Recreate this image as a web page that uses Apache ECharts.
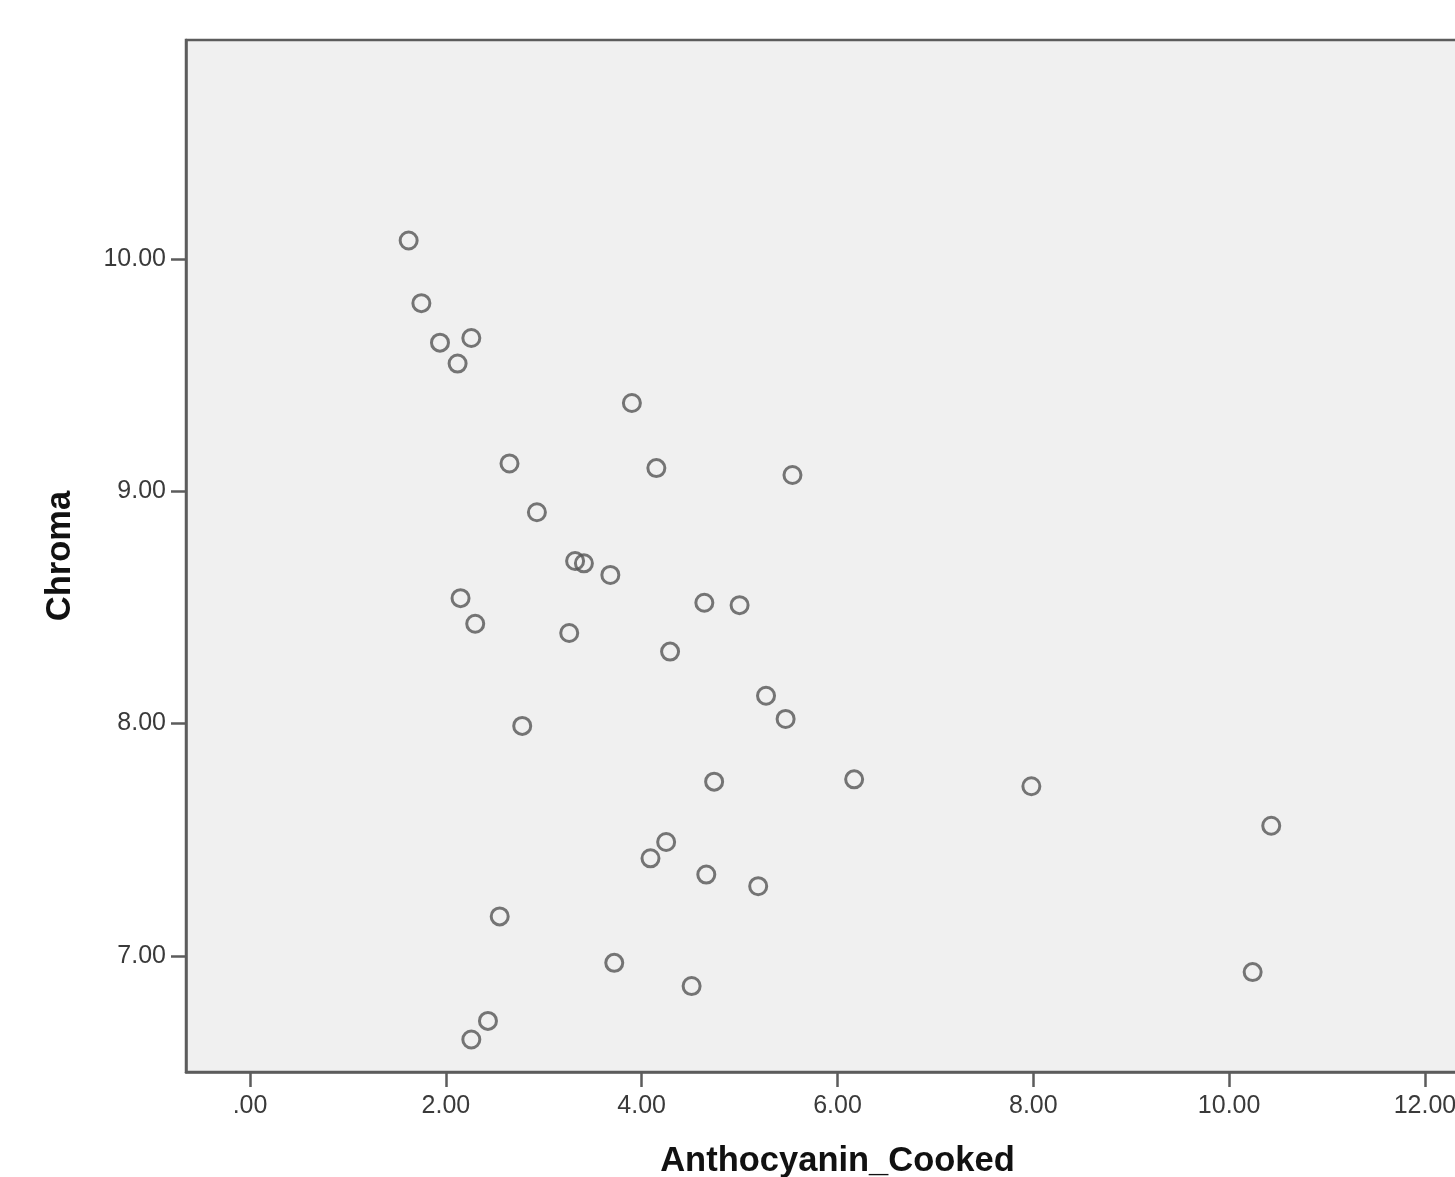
<!DOCTYPE html>
<html>
<head>
<meta charset="utf-8">
<script src="https://cdn.jsdelivr.net/npm/echarts@6/dist/echarts.min.js"></script>
<style>
html,body{margin:0;padding:0;background:#fff;overflow:hidden;}
#chart{width:1520px;height:1177px;}
</style>
</head>
<body>
<div id="chart"></div>
<script>
// Data
const anthocyanin = [1.62, 1.75, 1.94, 2.26, 2.12, 3.90, 2.65, 4.15, 5.54, 2.93,
  3.32, 3.41, 3.68, 2.15, 2.30, 4.64, 5.00, 3.26, 4.29, 5.27,
  5.47, 2.78, 4.74, 6.17, 7.98, 10.43, 4.25, 4.09, 4.66, 5.19,
  2.55, 3.72, 10.24, 4.51, 2.43, 2.26];
const chroma = [10.08, 9.81, 9.64, 9.66, 9.55, 9.38, 9.12, 9.10, 9.07, 8.91,
  8.70, 8.69, 8.64, 8.54, 8.43, 8.52, 8.51, 8.39, 8.31, 8.12,
  8.02, 7.99, 7.75, 7.76, 7.73, 7.56, 7.49, 7.42, 7.35, 7.30,
  7.17, 6.97, 6.93, 6.87, 6.72, 6.64];
const xTicks = [0, 2, 4, 6, 8, 10, 12];
const yTicks = [7, 8, 9, 10];
const xTitle = 'Anthocyanin_Cooked';
const yTitle = 'Chroma';

const points = anthocyanin.map((x, i) => [x, chroma[i]]);
const fmt = v => (v === 0 ? '.00' : v.toFixed(2));
const lineColor = '#5c5c5c';
const labelStyle = {
  fontFamily: 'Liberation Sans, Arial, sans-serif',
  fontSize: 25,
  color: '#3a3a3a'
};
const titleStyle = {
  fontFamily: 'Liberation Sans, Arial, sans-serif',
  fontWeight: 'bold', fontSize: 34.5, color: '#111'
};

const chart = echarts.init(document.getElementById('chart'), null, {renderer: 'canvas'});
chart.setOption({
  animation: false,
  backgroundColor: '#ffffff',
  grid: {
    left: 186, top: 40, width: 1303, height: 1032,
    outerBoundsMode: 'none',
    containLabel: false,
    show: true, backgroundColor: '#f0f0f0',
    borderColor: lineColor, borderWidth: 2.5
  },
  xAxis: {
    type: 'value',
    min: -0.654, max: 12.654,
    name: xTitle,
    nameLocation: 'middle',
    nameGap: 72,
    nameTextStyle: titleStyle,
    splitLine: {show: false},
    axisLine: {show: true, onZero: false, lineStyle: {color: lineColor, width: 2.5}},
    axisTick: {show: true, length: 15, lineStyle: {color: lineColor, width: 2.5}, customValues: xTicks},
    axisLabel: Object.assign({margin: 22, customValues: xTicks, formatter: fmt}, labelStyle)
  },
  yAxis: {
    type: 'value',
    min: 6.5, max: 10.943,
    name: yTitle,
    nameLocation: 'middle',
    nameGap: 108,
    nameRotate: 90,
    nameTextStyle: titleStyle,
    splitLine: {show: false},
    axisLine: {show: true, onZero: false, lineStyle: {color: lineColor, width: 2.5}},
    axisTick: {show: true, length: 15, lineStyle: {color: lineColor, width: 2.5}, customValues: yTicks},
    axisLabel: Object.assign({margin: 20, customValues: yTicks, formatter: fmt}, labelStyle)
  },
  series: [{
    type: 'scatter',
    data: points,
    symbol: 'circle',
    symbolSize: 17,
    itemStyle: {color: 'rgba(0,0,0,0)', borderColor: '#555555', borderWidth: 3},
    emphasis: {disabled: true},
    clip: false
  }]
});
</script>
</body>
</html>
